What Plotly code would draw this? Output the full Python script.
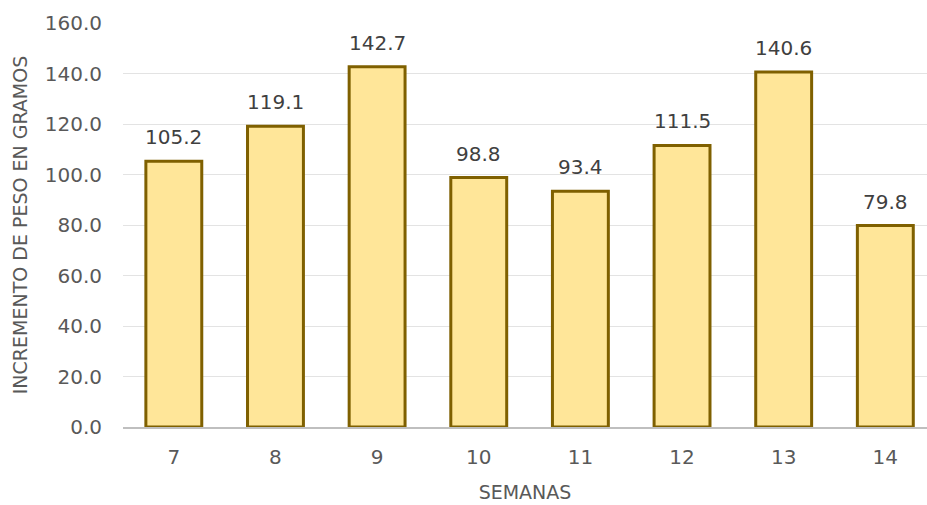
import plotly.graph_objects as go

semanas = ["7", "8", "9", "10", "11", "12", "13", "14"]
incremento = [105.2, 119.1, 142.7, 98.8, 93.4, 111.5, 140.6, 79.8]

FONT = "DejaVu Sans"
TICK_COLOR = "#595959"

fig = go.Figure(
    go.Bar(
        x=semanas,
        y=incremento,
        width=0.55,
        marker=dict(color="#FFE699", line=dict(color="#7F6000", width=3)),
        hoverinfo="x+y",
    )
)

# value labels floating above each bar (x given as category index)
for i, v in enumerate(incremento):
    fig.add_annotation(
        x=i,
        y=v,
        xref="x",
        yref="y",
        text=f"{v:.1f}",
        showarrow=False,
        yanchor="bottom",
        yshift=10,
        font=dict(family=FONT, size=20, color="#404040"),
    )

fig.update_layout(
    width=927,
    height=505,
    margin=dict(l=123, r=0, t=23, b=78),
    paper_bgcolor="white",
    plot_bgcolor="white",
    showlegend=False,
    xaxis=dict(
        type="category",
        range=[-0.5, 7.41],
        showgrid=False,
        showline=True,
        linecolor="#BFBFBF",
        linewidth=2,
        ticks="",
        tickfont=dict(family=FONT, size=20, color=TICK_COLOR),
        ticklabelstandoff=11,
        title=dict(text="SEMANAS", font=dict(family=FONT, size=19, color=TICK_COLOR), standoff=18),
    ),
    yaxis=dict(
        range=[0, 160],
        dtick=20,
        tickformat=".1f",
        showgrid=True,
        gridcolor="#E3E3E3",
        gridwidth=1,
        zeroline=False,
        showline=False,
        ticks="",
        tickfont=dict(family=FONT, size=20, color=TICK_COLOR),
        ticklabelstandoff=20,
        title=dict(text="INCREMENTO DE PESO EN GRAMOS", font=dict(family=FONT, size=19, color=TICK_COLOR), standoff=12),
    ),
)

fig.write_html("out.html")
